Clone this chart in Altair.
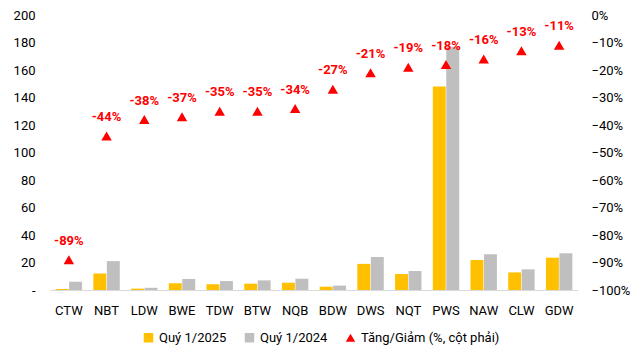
import altair as alt
import pandas as pd

categories = ["CTW", "NBT", "LDW", "BWE", "TDW", "BTW", "NQB", "BDW", "DWS", "NQT", "PWS", "NAW", "CLW", "GDW"]
q1_2025 = [0.7, 12.0, 1.0, 5.0, 4.2, 4.6, 5.3, 2.4, 19.0, 11.6, 148.0, 21.8, 12.8, 23.5]
q1_2024 = [6.0, 21.0, 1.6, 8.0, 6.5, 7.0, 8.2, 3.2, 24.0, 13.8, 177.0, 26.0, 15.0, 26.7]
change_pct = [-89, -44, -38, -37, -35, -35, -34, -27, -21, -19, -18, -16, -13, -11]

s25 = "Quý 1/2025"
s24 = "Quý 1/2024"
s_chg = "Tăng/Giảm (%, cột phải)"
series_domain = [s25, s24, s_chg]
series_colors = ["#FFC000", "#BFBFBF", "#FF0000"]
series_shapes = ["square", "square", "triangle-up"]

bars_df = pd.DataFrame({
    "cat": categories * 2,
    "series": [s25] * len(categories) + [s24] * len(categories),
    "value": q1_2025 + q1_2024,
})
chg_df = pd.DataFrame({
    "cat": categories,
    "pct": [v / 100 for v in change_pct],
    "series": [s_chg] * len(categories),
    "label": [f"{v}%" for v in change_pct],
})

FONT = "Roboto"

legend = alt.Legend(
    title=None, orient="none", direction="horizontal",
    legendX=92, legendY=316, labelFontSize=13, labelFont=FONT,
    labelColor="#000000", symbolSize=90, columnPadding=16, labelLimit=300,
    symbolStrokeWidth=0,
)
color = alt.Color("series:N", scale=alt.Scale(domain=series_domain, range=series_colors), legend=legend)
shape = alt.Shape("series:N", scale=alt.Scale(domain=series_domain, range=series_shapes), legend=legend)

x_enc = alt.X(
    "cat:N", sort=categories, title=None,
    scale=alt.Scale(paddingInner=0.3, paddingOuter=0.15),
    axis=alt.Axis(labelAngle=0, labelFontSize=13, labelFont=FONT, labelColor="#000000",
                  ticks=False, domainColor="#D9D9D9", labelPadding=14, grid=False),
)

right_axis = alt.Axis(orient="right", format=".0%", values=[-1 + i / 10 for i in range(11)],
                      domain=False, ticks=False, grid=False, labelFontSize=13, labelFont=FONT,
                      labelColor="#000000", labelPadding=13)
right_y = alt.Y("pct:Q", title=None, scale=alt.Scale(domain=[-1, 0]), axis=right_axis)

bars = alt.Chart(bars_df).mark_bar().encode(
    x=x_enc,
    xOffset=alt.XOffset("series:N", sort=[s25, s24], scale=alt.Scale(domain=[s25, s24], paddingInner=0.04)),
    y=alt.Y("value:Q", title=None,
            scale=alt.Scale(domain=[0, 200]),
            axis=alt.Axis(values=list(range(0, 201, 20)), labelExpr="datum.value == 0 ? '-' : datum.label",
                          domain=False, ticks=False, grid=False, labelFontSize=13, labelFont=FONT,
                          labelColor="#000000", labelPadding=15, orient="left")),
    color=color,
)

points = alt.Chart(chg_df).mark_point(filled=True, size=110, opacity=1).encode(
    x=alt.X("cat:N", sort=categories),
    y=right_y,
    color=color,
    shape=shape,
)

labels = alt.Chart(chg_df).mark_text(
    font=FONT, fontSize=13, fontWeight="bold", color="#FF0000", dy=-19, baseline="middle"
).encode(
    x=alt.X("cat:N", sort=categories),
    y=right_y,
    text="label:N",
)

chart = alt.layer(bars, alt.layer(points, labels)).resolve_scale(y="independent").properties(
    width=528, height=275,
    autosize=alt.AutoSizeParams(type="none"),
    padding={"left": 50, "top": 15, "right": 58, "bottom": 65},
).configure_view(stroke=None)

chart.save("out.html", embed_options={"renderer": "svg", "actions": False})
